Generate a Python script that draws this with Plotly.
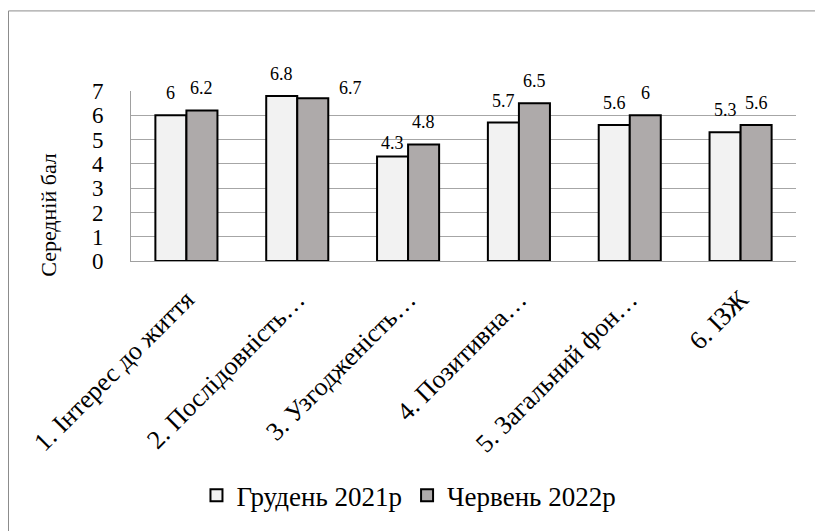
import plotly.graph_objects as go

categories = ["1. Інтерес до життя", "2. Послідовність…", "3. Узгодженість…",
              "4. Позитивна…", "5. Загальний фон…", "6. ІЗЖ"]
series_names = ["Грудень 2021р", "Червень 2022р"]
dec_2021 = [6, 6.8, 4.3, 5.7, 5.6, 5.3]
jun_2022 = [6.2, 6.7, 4.8, 6.5, 6, 5.6]
y_ticks = [0, 1, 2, 3, 4, 5, 6, 7]
y_title = "Середній бал"

FONT = "Liberation Serif"
colors = ["#F2F2F2", "#AEAAAA"]
series = [dec_2021, jun_2022]

W, H = 815, 531
ML, MR, MT, MB = 131, 19, 91, 267

fig = go.Figure()
for name, vals, col in zip(series_names, series, colors):
    fig.add_trace(go.Bar(
        x=categories, y=vals, name=name,
        marker=dict(color=col, line=dict(color="black", width=2)),
    ))

# data labels (Excel-style placement above bars)
bar_half = 15.5
default_off = (0, 22)
label_overrides = {(1, 1): (38, 10), (0, 2): (0, 14)}
for si, vals in enumerate(series):
    for ci, v in enumerate(vals):
        dx, dy = label_overrides.get((si, ci), default_off)
        fig.add_annotation(
            x=categories[ci], y=v, xref="x", yref="y",
            text=f"{v:g}", showarrow=False,
            xshift=(-bar_half if si == 0 else bar_half) + dx, yshift=dy,
            yanchor="middle", xanchor="center",
            font=dict(family=FONT, size=18, color="black"),
        )

plot_w = W - ML - MR
plot_h = H - MT - MB

# y-axis title
fig.add_annotation(
    x=(49 - ML) / plot_w, y=(264 - 217) / plot_h, xref="paper", yref="paper",
    text=y_title, showarrow=False, textangle=-90,
    font=dict(family=FONT, size=22, color="black"),
    xanchor="center", yanchor="middle",
)

# outer chart border
fig.add_shape(
    type="rect", xref="paper", yref="paper",
    x0=(8.5 - ML) / plot_w, x1=(830 - ML) / plot_w,
    y0=(264 - 545) / plot_h, y1=(264 - 9.5) / plot_h,
    line=dict(color="#8c8c8c", width=1), fillcolor="rgba(0,0,0,0)", layer="below",
)

fig.update_layout(
    width=W, height=H,
    margin=dict(l=ML, r=MR, t=MT, b=MB, pad=0),
    paper_bgcolor="white", plot_bgcolor="white",
    barmode="group", bargap=0.44, bargroupgap=0,
    font=dict(family=FONT, color="black"),
    showlegend=True,
    legend=dict(
        orientation="h", x=0.418, xanchor="center", y=-1.38, yanchor="middle",
        font=dict(family=FONT, size=27, color="black"),
        traceorder="normal", itemwidth=30,
    ),
)
fig.update_xaxes(
    type="category", tickangle=-45, showgrid=False,
    showline=True, linecolor="#a0a0a0", linewidth=1,
    ticks="", tickfont=dict(family=FONT, size=26, color="black"),
    ticklabelstandoff=12,
)
fig.update_yaxes(
    range=[0, 7.001], tickvals=y_ticks, showgrid=True,
    gridcolor="#a6a6a6", gridwidth=1, zeroline=False,
    showline=True, linecolor="#a0a0a0", linewidth=1,
    ticks="", tickfont=dict(family=FONT, size=23, color="black"),
    ticklabelstandoff=22,
)

fig.write_html("out.html")
